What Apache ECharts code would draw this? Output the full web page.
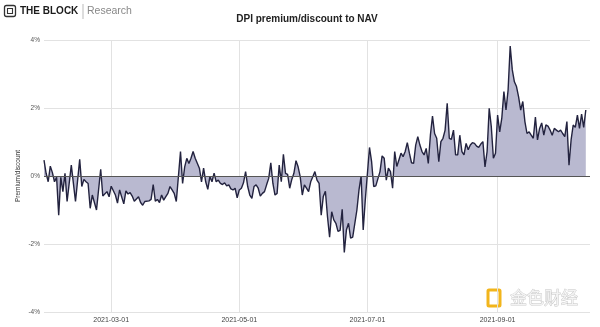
<!DOCTYPE html>
<html>
<head>
<meta charset="utf-8">
<script src="https://cdn.jsdelivr.net/npm/echarts@6/dist/echarts.min.js"></script>
<style>
html,body{margin:0;padding:0;background:#fff;}
#chart{width:600px;height:327px;}
</style>
</head>
<body>
<div id="chart"></div>
<script>
// Day offsets relative to 2021-03-01
const days = [-32,-31,-30,-29,-28,-27,-26,-25,-24,-23,-22,-21,-19,-17,-15,-14,-13,-12,-11,-10,-9,-7,-5,-4,-2,-1,
0,2,3,4,6,7,8,9,10,11,13,14,15,16,18,19,20,21,22,23,24,25,26,27,28,29,30,31,33,34,35,36,37,38,39,40,42,43,44,45,46,47,48,49,
50,51,52,53,54,55,56,57,58,59,60,61,62,63,64,65,66,67,68,69,70,71,72,73,74,75,76,77,78,79,80,81,82,83,84,85,86,87,88,89,
90,91,92,93,94,95,96,97,98,99,100,101,102,103,104,105,106,107,108,109,110,111,112,113,114,115,117,118,119,120,121,123,124,125,126,128,129,
130,131,132,133,134,135,136,137,138,139,140,141,142,143,144,145,146,147,148,149,150,151,152,153,154,155,156,157,158,159,
160,161,162,163,164,165,166,167,168,169,170,171,172,173,174,175,176,177,178,179,180,181,182,183,184,185,186,187,188,189,
190,191,192,193,194,195,196,197,198,199,200,201,202,203,204,205,206,207,208,209,210,211,212,213,214,215,216,217,218,219,
220,221,222,223,224,225,226];
// Premium/discount to NAV, in percent
const values = [0.47,0.08,-0.17,0.29,0.10,-0.17,-0.04,-1.15,-0.04,-0.46,0.08,-0.75,0.32,-0.75,0.49,-0.31,-0.10,-0.17,-0.22,-0.95,-0.56,-1.0,0.2,-0.59,-0.46,-0.61,
-0.3,-0.56,-0.8,-0.41,-0.82,-0.44,-0.53,-0.49,-0.59,-0.74,-0.61,-0.78,-0.86,-0.75,-0.73,-0.69,-0.25,-0.74,-0.69,-0.78,-0.56,-0.71,-0.61,-0.51,-0.31,-0.41,-0.51,-0.75,0.72,-0.22,0.27,0.52,0.37,0.52,0.72,0.52,0.23,-0.17,0.23,-0.17,-0.39,-0.02,-0.17,0.08,
-0.17,-0.12,-0.22,-0.25,-0.2,-0.29,-0.26,-0.38,-0.41,-0.36,-0.64,-0.41,-0.36,-0.2,0.13,-0.31,-0.56,-0.66,-0.31,-0.26,-0.36,-0.59,-0.51,-0.46,-0.26,-0.07,0.39,-0.22,-0.56,-0.51,0.32,-0.17,0.64,0.08,0.05,-0.36,-0.1,0.08,0.45,0.27,
-0.02,-0.56,-0.26,-0.36,-0.46,-0.17,-0.02,0.13,-0.12,-0.22,-1.15,-0.6,-0.45,-1.2,-1.8,-1.05,-1.29,-1.39,-1.63,-1.6,-0.98,-2.25,-1.59,-1.39,-1.83,-1.8,-1.0,-0.41,0.0,-1.59,-0.7,0.84,0.42,-0.31,-0.29,0.13,0.59,
0.52,-0.12,0.23,0.13,-0.36,0.72,0.28,0.47,0.67,0.57,0.72,0.98,0.67,0.39,0.37,0.91,1.16,0.91,0.72,0.62,0.81,0.37,1.2,1.76,1.25,1.11,0.42,1.01,1.11,1.35,
2.14,1.11,1.08,1.35,0.62,0.62,1.2,0.72,0.62,0.96,0.77,0.91,0.98,0.96,0.88,0.84,0.94,1.01,0.27,0.72,1.99,1.45,0.52,0.67,1.79,1.3,1.7,2.48,1.94,2.53,
3.82,3.12,2.77,2.63,2.33,1.94,2.19,1.6,1.25,1.3,1.2,1.11,1.73,1.06,1.4,1.56,1.2,1.5,1.47,1.35,1.2,1.4,1.35,1.3,1.35,1.25,1.16,1.6,0.32,1.06,
1.5,1.43,1.79,1.4,1.82,1.43,1.94];
const tickDates = ['2021-03-01','2021-05-01','2021-07-01','2021-09-01'];
const yTicks = [-4,-2,0,2,4];
const rangeStart = '2021-01-28';
const rangeEnd = '2021-10-15';

const DAY = 86400000;
const base = Date.UTC(2021,2,1);
const toDay = s => { const p = s.split('-').map(Number); return Math.round((Date.UTC(p[0], p[1]-1, p[2]) - base) / DAY); };
const data = days.map((d,i) => [d, values[i]]);
const pad = n => (n < 10 ? '0' : '') + n;
const fmt = v => { const d = new Date(base + Math.round(v)*DAY); return d.getUTCFullYear() + '-' + pad(d.getUTCMonth()+1) + '-' + pad(d.getUTCDate()); };
const tickDays = tickDates.map(toDay);

const chart = echarts.init(document.getElementById('chart'), null, {renderer:'canvas'});
const FONT = 'Liberation Sans, Arial, sans-serif';
chart.setOption({
  animation: false,
  backgroundColor: '#fff',
  grid: {left: 44, right: 10, top: 40, bottom: 15, containLabel: false},
  xAxis: {
    type: 'value',
    min: toDay(rangeStart),
    max: toDay(rangeEnd),
    axisLine: {show: false},
    axisTick: {show: false, customValues: tickDays},
    splitLine: {show: true, lineStyle: {color: '#e2e2e2', width: 1}},
    axisLabel: {customValues: tickDays, formatter: v => fmt(v), fontSize: 7, color: '#444', margin: 5, fontFamily: FONT}
  },
  yAxis: {
    type: 'value',
    min: yTicks[0], max: yTicks[yTicks.length-1], interval: 2,
    axisLine: {show: false},
    axisTick: {show: false},
    splitLine: {lineStyle: {color: '#e2e2e2', width: 1}},
    axisLabel: {formatter: '{value}%', fontSize: 6.5, color: '#555', margin: 4, fontFamily: FONT}
  },
  series: [{
    type: 'line',
    data: data,
    showSymbol: false,
    lineStyle: {color: '#23233f', width: 1.4},
    areaStyle: {color: '#b9b9d0', opacity: 1},
    z: 3,
    markLine: {
      silent: true,
      symbol: 'none',
      label: {show: false},
      lineStyle: {color: '#555', width: 1, type: 'solid'},
      data: [{yAxis: 0}]
    }
  }],
  graphic: [
    {type: 'text', x: 18, y: 176, rotation: Math.PI / 2, style: {text: 'Premium/discount', font: '6.5px ' + FONT, fill: '#333', align: 'center', verticalAlign: 'middle'}},
    {type: 'rect', shape: {x: 4.5, y: 5.5, width: 11, height: 11, r: 2}, style: {fill: 'none', stroke: '#333', lineWidth: 1.3}},
    {type: 'rect', shape: {x: 7.5, y: 8.5, width: 5, height: 5}, style: {fill: 'none', stroke: '#333', lineWidth: 1.1}},
    {type: 'text', x: 20, y: 11.5, style: {text: 'THE BLOCK', font: 'bold 10px ' + FONT, fill: '#1b1b1b', verticalAlign: 'middle'}},
    {type: 'line', shape: {x1: 83, y1: 4, x2: 83, y2: 19}, style: {stroke: '#bbb', lineWidth: 1}},
    {type: 'text', x: 87, y: 11.5, style: {text: 'Research', font: '10.5px ' + FONT, fill: '#888', verticalAlign: 'middle'}},
    {type: 'text', x: 307, y: 19, style: {text: 'DPI premium/discount to NAV', font: 'bold 10px ' + FONT, fill: '#222', align: 'center', verticalAlign: 'middle'}},
    {type: 'rect', shape: {x: 488, y: 290, width: 12, height: 16, r: 1}, style: {fill: 'none', stroke: '#f2b51c', lineWidth: 3}},
    {type: 'text', x: 510, y: 298, style: {text: '金色财经', font: '17px "Noto Sans CJK SC", sans-serif', fill: '#f3f3f3', stroke: '#c4c4c4', lineWidth: 0.8, verticalAlign: 'middle'}}
  ]
});
</script>
</body>
</html>
